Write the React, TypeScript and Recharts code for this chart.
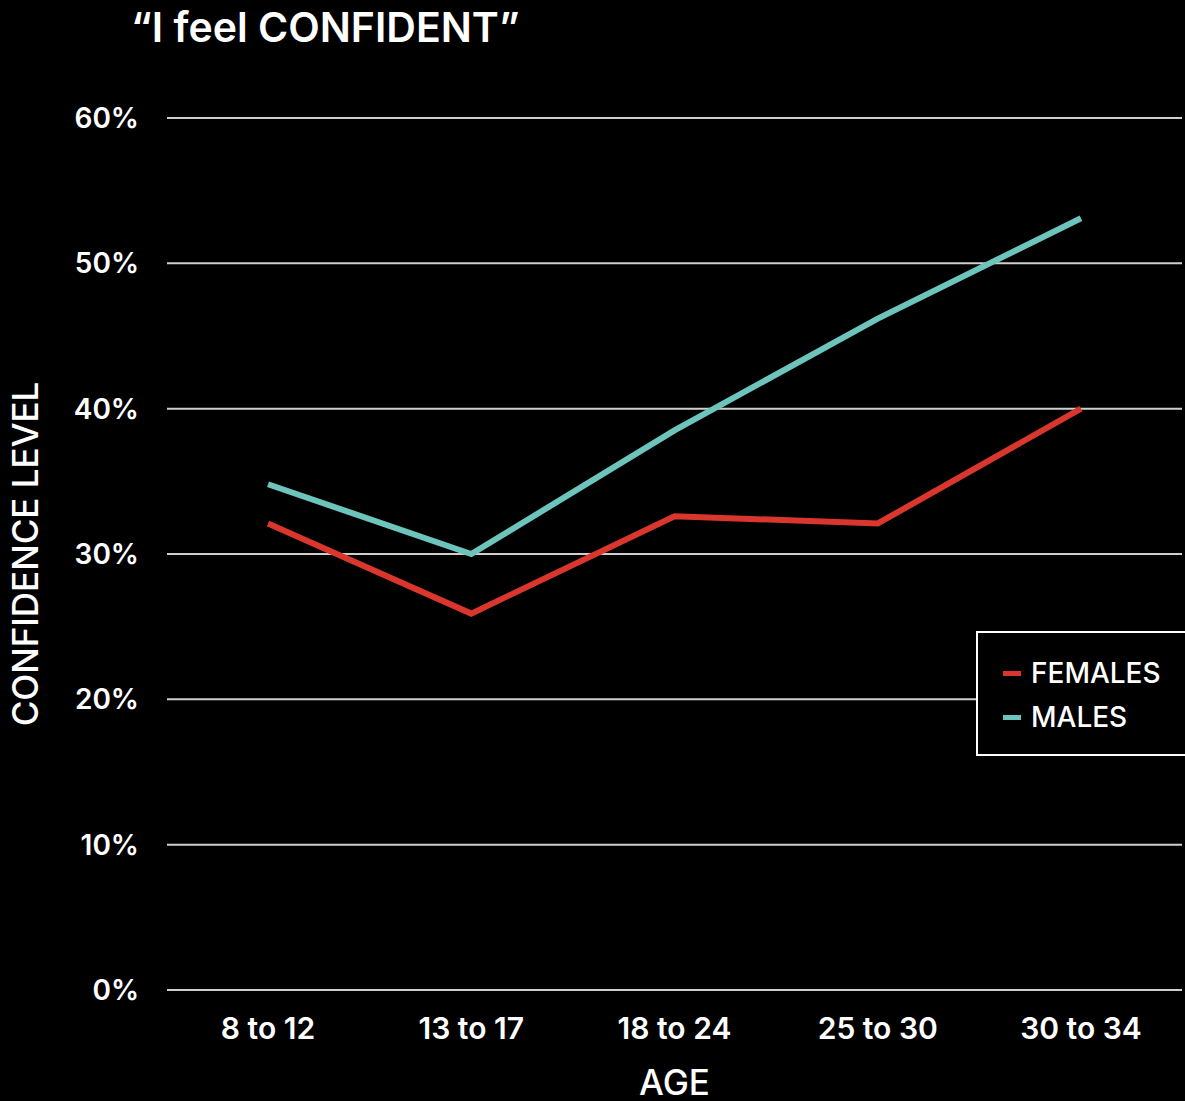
import React from 'react';
import { LineChart, Line, XAxis, YAxis, CartesianGrid, Legend, Label } from 'recharts';

const ageGroups = ['8 to 12', '13 to 17', '18 to 24', '25 to 30', '30 to 34'];
const females = [32.1, 25.9, 32.6, 32.1, 40.0];
const males = [34.8, 30.0, 38.5, 46.2, 53.1];
const yTicks = [0, 10, 20, 30, 40, 50, 60];

const data = ageGroups.map((age, i) => ({ age, females: females[i], males: males[i] }));

const FONT = 'Inter, Roboto, "Noto Sans", sans-serif';

function LegendBox({ payload }: any) {
  return (
    <div
      style={{
        width: 209,
        height: 125,
        border: '2px solid #fff',
        borderRight: 'none',
        background: '#000',
        boxSizing: 'border-box',
        paddingTop: 18,
        paddingLeft: 25,
      }}
    >
      {(payload || []).map((p: any) => (
        <div key={p.value} style={{ display: 'flex', alignItems: 'center', height: 44 }}>
          <span style={{ width: 18, height: 5, background: p.color, marginRight: 10 }} />
          <span style={{ color: '#fff', fontFamily: FONT, fontSize: 28, fontWeight: 500 }}>
            {p.value}
          </span>
        </div>
      ))}
    </div>
  );
}

export default function App() {
  return (
    <div
      style={{
        position: 'absolute',
        left: 0,
        top: 0,
        width: 1185,
        height: 1101,
        background: '#000',
        overflow: 'hidden',
      }}
    >
      <div
        style={{
          position: 'absolute',
          left: 131,
          top: 3,
          color: '#fff',
          fontFamily: FONT,
          fontSize: 41,
          fontWeight: 600,
          lineHeight: '48px',
          whiteSpace: 'nowrap',
        }}
      >
        “I feel CONFIDENT”
      </div>
      <LineChart
        width={1185}
        height={1101}
        data={data}
        margin={{ top: 118, right: 3, bottom: 0, left: 0 }}
      >
        <CartesianGrid horizontal vertical={false} stroke="#cfcfcf" strokeWidth={2} />
        <XAxis
          dataKey="age"
          padding={{ left: 101, right: 101 }}
          axisLine={false}
          tickLine={false}
          tickSize={0}
          tickMargin={28}
          height={111}
          tick={{ fill: '#fff', fontSize: 30, fontWeight: 600, fontFamily: FONT }}
        >
          <Label
            value="AGE"
            position="insideBottom"
            offset={6}
            fill="#fff"
            fontSize={35}
            fontWeight={500}
            fontFamily={FONT}
          />
        </XAxis>
        <YAxis
          width={167}
          domain={[0, 60]}
          ticks={yTicks}
          tickFormatter={(v: number) => `${v}%`}
          axisLine={false}
          tickLine={false}
          tickSize={0}
          tickMargin={28}
          tick={{ fill: '#fff', fontSize: 28, fontWeight: 600, fontFamily: FONT }}
        >
          <Label
            value="CONFIDENCE LEVEL"
            angle={-90}
            position="insideLeft"
            offset={26}
            fill="#fff"
            fontSize={35}
            fontWeight={500}
            fontFamily={FONT}
            style={{ textAnchor: 'middle' }}
          />
        </YAxis>
        <Legend
          layout="vertical"
          align="center"
          verticalAlign="middle"
          content={<LegendBox />}
          wrapperStyle={{ position: 'absolute', left: 976, top: 631, width: 209, height: 125 }}
        />
        <Line
          type="linear"
          dataKey="females"
          name="FEMALES"
          stroke="#d9372d"
          strokeWidth={6}
          dot={false}
          activeDot={false}
          isAnimationActive={false}
        />
        <Line
          type="linear"
          dataKey="males"
          name="MALES"
          stroke="#6cc4bd"
          strokeWidth={6}
          dot={false}
          activeDot={false}
          isAnimationActive={false}
        />
      </LineChart>
    </div>
  );
}
